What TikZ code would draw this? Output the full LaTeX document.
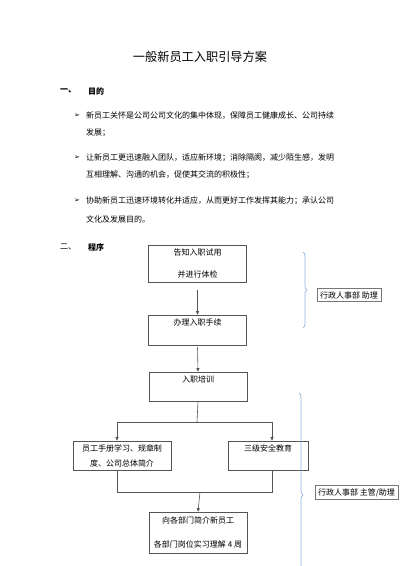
\documentclass[tikz,border=0pt]{standalone}
\usepackage{fontspec}
\setmainfont{Noto Sans CJK SC}
\newfontfamily\symfont{DejaVu Sans}
\usetikzlibrary{arrows.meta,positioning,calc,decorations.pathreplacing}
\definecolor{flowGray}{HTML}{555555}
\definecolor{braceBlue}{HTML}{8FB4DC}

\begin{document}
\begin{tikzpicture}[x=1pt,y=-1pt,font=\fontsize{8}{10}\selectfont,
    stepbox/.style={draw=flowGray,line width=0.6pt,minimum width=98pt,
                    inner sep=2pt,align=center},
    toplabel/.style={anchor=north,inner sep=0pt,yshift=-4pt},
    rolebox/.style={draw=flowGray!80,line width=0.5pt,inner sep=3pt},
    line/.style={draw=flowGray,line width=0.6pt},
    flow/.style={line,-{Triangle[length=3.5pt,width=3pt]}},
    curly/.style={draw=braceBlue,line width=0.7pt,
                  decorate,decoration={brace,amplitude=4pt}},
    para/.style={anchor=west,inner sep=0pt},
    bullet/.style={anchor=center,inner sep=0pt,font=\symfont\fontsize{7}{8}\selectfont}]
  \useasboundingbox[fill=white] (0,0) rectangle (400,566);
  \clip (0,0) rectangle (400,566);

  % heading
  \node[font=\fontsize{12.2}{14}\selectfont] (title) at (200,57) {一般新员工入职引导方案};
  \node[para,font=\bfseries\fontsize{8}{10}\selectfont] (sec1) at (60,91) {一、};
  \node[para,font=\bfseries\fontsize{8}{10}\selectfont] (aim) at (88,91) {目的};

  % goals
  \node[bullet] (b1) at (77,116) {➢};
  \node[para] (g1a) at (86,116) {新员工关怀是公司公司文化的集中体现，保障员工健康成长、公司持续};
  \node[para] (g1b) at (86,133) {发展；};
  \node[bullet] (b2) at (77,158) {➢};
  \node[para] (g2a) at (86,158) {让新员工更迅速融入团队，适应新环境；消除隔阂，减少陌生感，发明};
  \node[para] (g2b) at (86,175) {互相理解、沟通的机会，促使其交流的积极性；};
  \node[bullet] (b3) at (77,201) {➢};
  \node[para] (g3a) at (86,201) {协助新员工迅速环境转化并适应，从而更好工作发挥其能力；承认公司};
  \node[para] (g3b) at (86,219) {文化及发展目的。};

  \node[para] (sec2) at (60,247) {二、};
  \node[para,font=\bfseries\fontsize{8}{10}\selectfont] (proc) at (88,247) {程序};

  % flow chart
  \node[stepbox,minimum height=37pt] (tell) at (197.5,263.5)
    {告知入职试用\\[12pt]并进行体检};
  \node[stepbox,minimum height=30pt,label={[toplabel]north:办理入职手续}] (sign) at (197.5,330) {};
  \node[stepbox,minimum height=29pt,label={[toplabel]north:入职培训}] (train) at (198,386.5) {};
  \node[stepbox,minimum height=29pt] (handbook) at (122,455.5)
    {员工手册学习、规章制\\[5pt]度、公司总体简介};
  \node[stepbox,minimum width=80pt,minimum height=29pt,label={[toplabel]north:三级安全教育}] (safety) at (268,455.5) {};
  \node[stepbox,minimum height=41pt] (dept) at (198,532.5)
    {向各部门简介新员工\\[14pt]各部门岗位实习理解 4 周};

  \coordinate (split) at (197,422);
  \coordinate (merge) at (200,492);

  \draw[flow] ([yshift=-8pt]tell.south) -- (sign.north);
  \draw[flow] ([yshift=-2pt]sign.south) -- (train.north);
  \draw[line] (train.south) -- (split);
  \draw[flow] (split) -| ([xshift=-5pt]handbook.north);
  \draw[flow] (split) -| ([xshift=4pt]safety.north);
  \draw[line] ([xshift=-5pt]handbook.south) |- (merge);
  \draw[line] ([xshift=4pt]safety.south) |- (merge);
  \draw[flow] (merge) -- (dept.north);

  % responsibility
  \coordinate (br1a) at (303,252);
  \coordinate (br1b) at (303,328);
  \draw[curly] (br1a) -- (br1b);
  \node[rolebox] (role1) at (349,295) {行政人事部 助理};

  \coordinate (br2a) at (299,393);
  \coordinate (br2b) at (299,597);
  \draw[curly] (br2a) -- (br2b);
  \node[rolebox] (role2) at (356.5,492.5) {行政人事部 主管/助理};
\end{tikzpicture}
\end{document}
